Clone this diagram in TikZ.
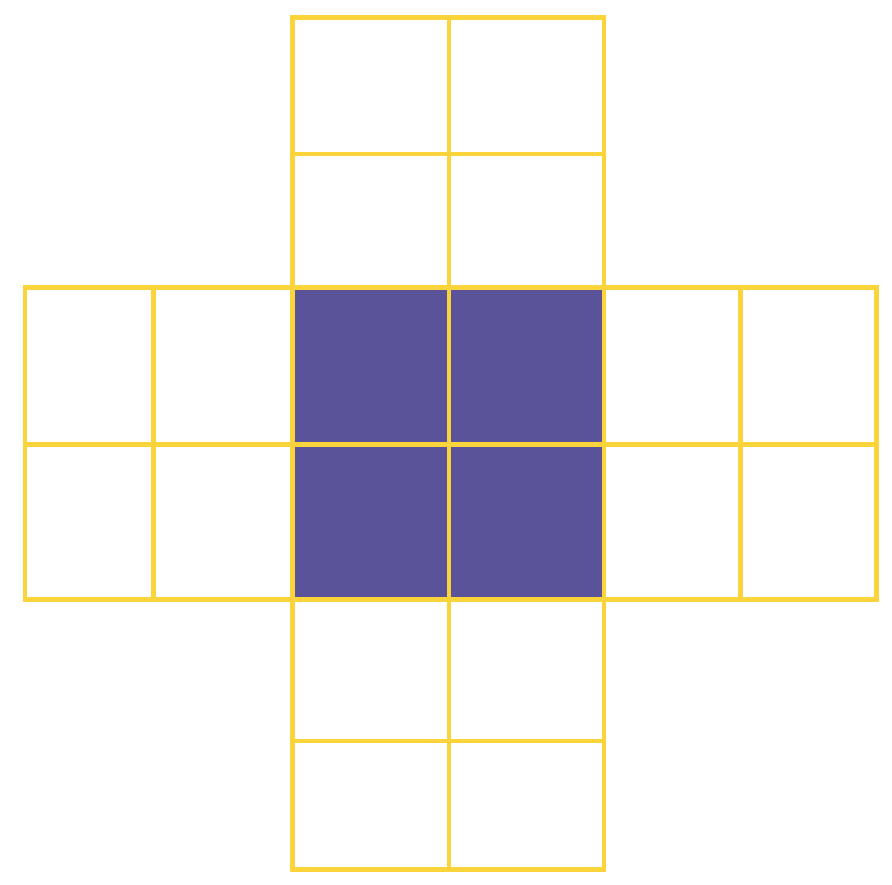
\documentclass[tikz,border=0pt]{standalone}
\definecolor{gridyellow}{HTML}{FAD43A}
\definecolor{cellpurple}{HTML}{5A5399}
\tikzset{gridline/.style={draw=gridyellow,line width=4.8pt,line cap=rect,line join=miter}}
\begin{document}
\begin{tikzpicture}[x=1pt,y=-1pt]
\useasboundingbox (0,0) rectangle (892,885);
% purple centre
\fill[cellpurple] (292.5,287.5) rectangle (604,599.5);
% top arm
\draw[gridline] (292.5,287.5) rectangle (604,17.5);
\draw[gridline] (292.5,154) -- (604,154);
\draw[gridline] (449,17.5) -- (449,287.5);
% middle band
\draw[gridline] (25,287.5) rectangle (876.5,599.5);
\draw[gridline] (25,444.5) -- (876.5,444.5);
\foreach \x in {153.5,292.5,449,604,740.5}
  \draw[gridline] (\x,287.5) -- (\x,599.5);
% bottom arm
\draw[gridline] (292.5,599.5) rectangle (604,869.5);
\draw[gridline] (292.5,741) -- (604,741);
\draw[gridline] (449,599.5) -- (449,869.5);
\end{tikzpicture}
\end{document}
